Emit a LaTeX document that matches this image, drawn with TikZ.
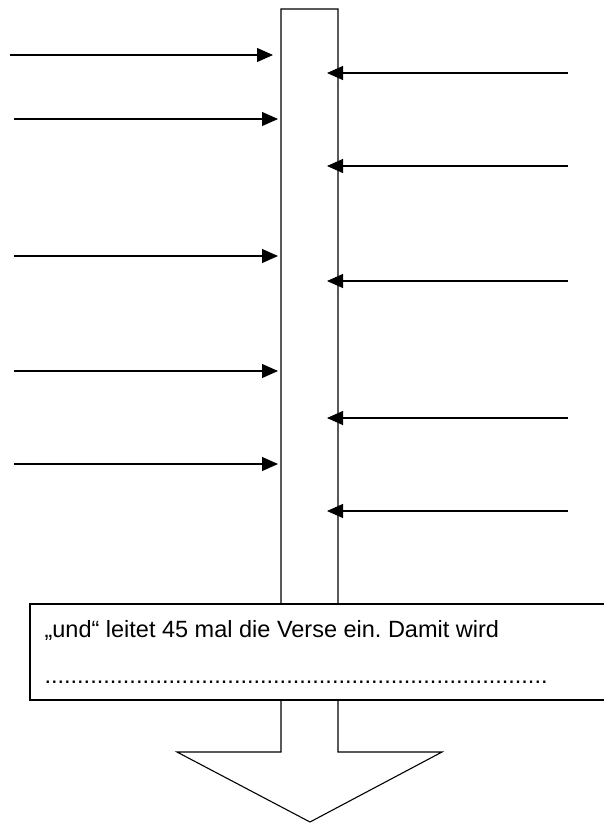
\documentclass[tikz,border=0pt]{standalone}
\usepackage{fontspec}
\setmainfont{Liberation Sans}
\usetikzlibrary{arrows.meta}
\frenchspacing
\begin{document}
\begin{tikzpicture}[x=1pt,y=-1pt,line width=1.1pt]
\tikzstyle{every node}+=[inner sep=0pt]
\tikzset{pfeil/.style={-{Triangle[length=16pt,width=14pt]}}}
\useasboundingbox (0,0) rectangle (604,823);
\clip (0,0) rectangle (604,823);
% Saeule mit Pfeil nach unten
\draw [black] (281,9) coordinate (saeuleL) -- (338,9) coordinate (saeuleR) -- (338,752) -- (442,752) -- (310,822) coordinate (spitze) -- (177,752) -- (281,752) -- cycle;
% Pfeile von links
\foreach \y/\x/\e in {55/10/273, 119/14/278, 256/14/278, 371/14/278, 464/14/278} {
  \coordinate (links\y) at (\x,\y);
  \coordinate (ziel\y) at (\e,\y);
  \draw [black, pfeil] (links\y) -- (ziel\y);
}
% Pfeile von rechts
\foreach \y in {73, 166, 281, 418, 511} {
  \coordinate (rechts\y) at (568,\y);
  \coordinate (ende\y) at (327,\y);
  \draw [black, pfeil] (rechts\y) -- (ende\y);
}
% Textfeld
\draw [black, fill=white] (30,604) rectangle (640,700);
\node [anchor=base west, font=\fontsize{23.5}{28}\selectfont] (satz) at (44,637) {„und“ leitet 45 mal die Verse ein. Damit wird};
\node [anchor=base west, font=\fontsize{23.5}{28}\selectfont] (punkte) at (44,683) {.............................................................................};
\end{tikzpicture}
\end{document}
